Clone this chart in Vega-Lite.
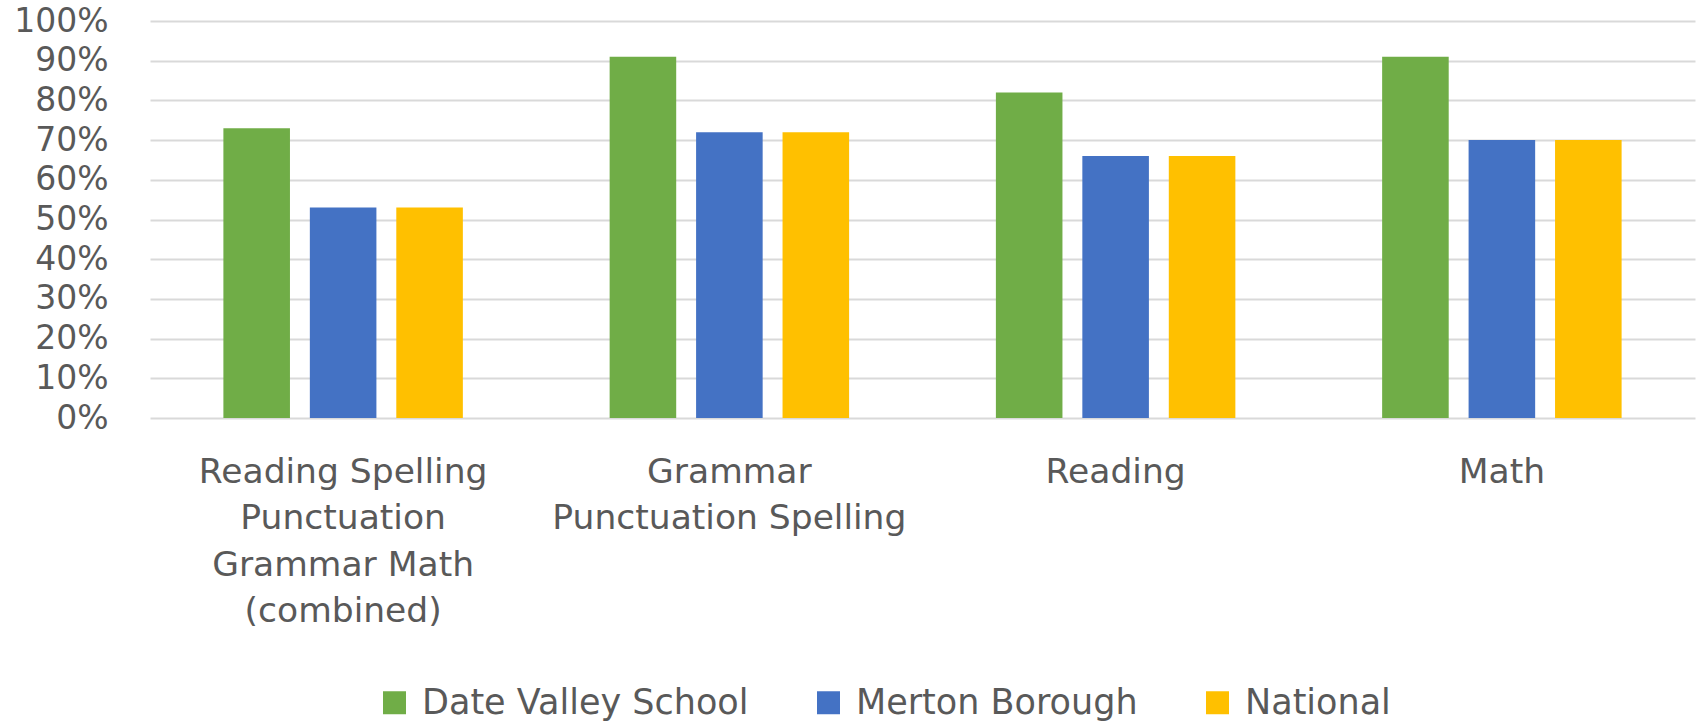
{
  "$schema": "https://vega.github.io/schema/vega-lite/v6.json",
  "width": 1545,
  "height": 397,
  "autosize": {"type": "none"},
  "padding": {"left": 150, "top": 21, "right": 3, "bottom": 303},
  "background": "white",
  "config": {"view": {"stroke": null}, "font": "DejaVu Sans"},
  "data": {
    "values": [
      {"subject": "Reading Spelling Punctuation Grammar Math (combined)", "group": "Date Valley School", "value": 0.73},
      {"subject": "Reading Spelling Punctuation Grammar Math (combined)", "group": "Merton Borough", "value": 0.53},
      {"subject": "Reading Spelling Punctuation Grammar Math (combined)", "group": "National", "value": 0.53},
      {"subject": "Grammar Punctuation Spelling", "group": "Date Valley School", "value": 0.91},
      {"subject": "Grammar Punctuation Spelling", "group": "Merton Borough", "value": 0.72},
      {"subject": "Grammar Punctuation Spelling", "group": "National", "value": 0.72},
      {"subject": "Reading", "group": "Date Valley School", "value": 0.82},
      {"subject": "Reading", "group": "Merton Borough", "value": 0.66},
      {"subject": "Reading", "group": "National", "value": 0.66},
      {"subject": "Math", "group": "Date Valley School", "value": 0.91},
      {"subject": "Math", "group": "Merton Borough", "value": 0.70},
      {"subject": "Math", "group": "National", "value": 0.70}
    ]
  },
  "mark": {"type": "bar"},
  "encoding": {
    "x": {
      "field": "subject",
      "type": "nominal",
      "sort": ["Reading Spelling Punctuation Grammar Math (combined)", "Grammar Punctuation Spelling", "Reading", "Math"],
      "scale": {"paddingInner": 0.38, "paddingOuter": 0.19},
      "axis": {
        "title": null,
        "labelAngle": 0,
        "ticks": false,
        "domain": false,
        "labelPadding": 37,
        "labelBaseline": "top",
        "labelFontSize": 34.5,
        "labelColor": "#595959",
        "labelLineHeight": 46.5,
        "labelLimit": 0,
        "labelExpr": "datum.value == 'Reading Spelling Punctuation Grammar Math (combined)' ? ['Reading Spelling', 'Punctuation', 'Grammar Math', '(combined)'] : datum.value == 'Grammar Punctuation Spelling' ? ['Grammar', 'Punctuation Spelling'] : datum.value"
      }
    },
    "xOffset": {
      "field": "group",
      "type": "nominal",
      "sort": ["Date Valley School", "Merton Borough", "National"],
      "scale": {"paddingInner": 0.23, "paddingOuter": 0}
    },
    "y": {
      "field": "value",
      "type": "quantitative",
      "scale": {"domain": [0, 1]},
      "axis": {
        "title": null,
        "format": ".0%",
        "values": [0, 0.1, 0.2, 0.3, 0.4, 0.5, 0.6, 0.7, 0.8, 0.9, 1],
        "domain": false,
        "ticks": false,
        "labelPadding": 42,
        "labelFontSize": 33,
        "labelColor": "#595959",
        "gridColor": "#d9d9d9",
        "gridWidth": 2
      }
    },
    "color": {
      "field": "group",
      "type": "nominal",
      "scale": {"domain": ["Date Valley School", "Merton Borough", "National"], "range": ["#70AD47", "#4472C4", "#FFC000"]},
      "legend": {
        "title": null,
        "orient": "none",
        "direction": "horizontal",
        "legendX": 227,
        "legendY": 664,
        "symbolType": "square",
        "symbolSize": 529,
        "symbolStrokeWidth": 0,
        "symbolOpacity": 1,
        "labelFontSize": 35,
        "labelColor": "#595959",
        "labelOffset": 10,
        "columnPadding": 62,
        "labelLimit": 0
      }
    }
  }
}
